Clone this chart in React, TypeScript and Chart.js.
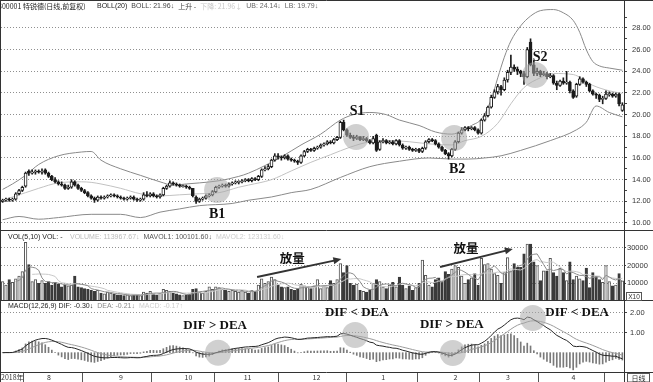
import React, { useEffect, useRef } from 'react';
import { Chart, registerables } from 'chart.js';

Chart.register(...registerables);

const SANS = '"Liberation Sans", Arial, sans-serif';
const CJK = '"Noto Sans CJK SC", "Liberation Sans", sans-serif';
const SERIF = '"Liberation Serif", "Times New Roman", serif';

// ---------------- data ----------------
const open = [
  12.0,12.1,12.2,12.1,12.2,12.7,13.0,13.4,14.8,14.6,
  14.7,14.8,14.7,14.9,14.6,14.3,14.0,13.8,13.6,13.5,
  13.2,13.3,13.8,13.5,13.2,13.0,12.8,12.5,12.3,12.1,
  12.4,12.3,12.4,12.5,12.6,12.5,12.4,12.3,12.2,12.3,
  12.4,12.2,12.1,12.2,12.6,12.5,12.7,12.5,12.4,12.6,
  13.2,13.4,13.7,13.6,13.5,13.35,13.4,13.3,13.2,12.4,
  12.0,12.2,12.3,12.5,12.6,12.9,13.3,13.4,13.5,13.4,
  13.6,13.7,13.75,13.8,13.9,14.0,13.9,14.1,14.0,14.3,
  14.9,15.0,15.2,15.8,16.2,16.1,16.0,16.2,15.9,15.8,
  15.7,15.6,16.2,16.6,16.8,16.7,16.9,17.0,17.2,17.3,
  17.5,17.4,17.7,17.9,19.3,18.6,18.1,17.9,17.8,17.9,
  17.7,17.8,17.6,17.4,18.1,16.8,17.5,17.6,17.4,17.5,
  17.3,17.6,17.2,16.9,17.0,16.8,16.7,16.8,16.6,16.9,
  17.5,17.7,17.6,17.3,17.0,16.7,16.4,16.2,16.8,17.5,
  18.3,18.6,18.8,18.7,18.8,18.6,18.3,19.5,19.9,20.7,
  21.6,22.1,22.6,22.3,23.2,23.9,24.4,24.2,24.0,23.8,
  23.5,26.7,24.6,23.8,24.0,23.7,23.8,23.5,23.6,22.9,
  22.7,23.1,22.9,23.0,22.2,21.7,22.8,23.3,23.0,22.8,
  22.2,21.9,21.8,21.4,21.5,21.85,21.9,21.7,21.9,20.4,
];
const high = [
  12.2,12.3,12.3,12.3,12.8,13.1,13.4,14.7,14.9,14.9,
  14.9,14.9,15.0,15.0,14.7,14.4,14.2,13.9,13.8,13.6,
  13.5,14.0,13.9,13.6,13.3,13.1,12.9,12.6,12.4,12.5,
  12.5,12.5,12.6,12.7,12.7,12.6,12.5,12.4,12.4,12.5,
  12.5,12.3,12.3,12.8,12.9,12.8,12.8,12.6,12.7,13.3,
  13.5,13.9,13.8,13.7,13.6,13.5,13.5,13.4,13.2,12.5,
  12.3,12.4,12.6,12.7,13.0,13.4,13.5,13.6,13.6,13.7,
  13.8,13.9,13.9,14.0,14.1,14.1,14.2,14.2,14.4,15.0,
  15.2,15.4,15.9,16.4,16.4,16.2,16.3,16.3,16.0,15.9,
  15.8,16.3,16.7,16.9,16.9,17.0,17.1,17.3,17.4,17.6,
  17.6,17.8,18.0,19.4,19.5,18.7,18.3,18.1,18.1,18.0,
  18.0,17.9,17.7,18.0,18.2,17.6,17.8,17.7,17.6,17.6,
  17.7,17.7,17.3,17.1,17.1,16.9,16.9,16.9,17.0,17.6,
  17.8,17.8,17.7,17.4,17.1,16.8,16.5,16.9,17.6,18.4,
  18.8,18.9,18.9,18.9,18.9,18.7,19.6,20.1,20.8,21.8,
  22.3,22.8,22.7,23.4,24.1,25.5,24.6,24.4,24.1,24.0,
  26.2,27.0,25.0,24.3,24.1,24.0,23.9,23.8,23.7,23.1,
  23.2,23.4,24.0,23.1,22.3,22.9,23.5,23.4,23.1,22.9,
  22.3,22.0,21.9,21.7,22.2,22.1,22.0,22.0,22.0,21.1,
];
const low = [
  11.9,12.0,12.0,12.0,12.1,12.6,12.9,13.3,14.4,14.5,
  14.5,14.6,14.5,14.5,14.2,13.9,13.7,13.5,13.4,13.1,
  13.1,13.2,13.4,13.1,12.9,12.7,12.4,12.2,11.9,12.0,
  12.2,12.2,12.3,12.4,12.4,12.3,12.2,12.1,12.1,12.2,
  12.1,12.0,12.0,12.1,12.4,12.4,12.4,12.3,12.3,12.5,
  13.1,13.3,13.5,13.4,13.3,13.3,13.2,13.1,12.4,11.8,
  11.9,12.1,12.2,12.4,12.5,12.8,13.2,13.3,13.3,13.3,
  13.5,13.6,13.6,13.7,13.8,13.8,13.8,13.9,13.9,14.2,
  14.8,14.9,15.1,15.7,15.9,15.8,15.9,15.8,15.7,15.6,
  15.4,15.5,16.1,16.5,16.6,16.6,16.8,16.9,17.1,17.2,
  17.3,17.3,17.6,17.8,18.5,18.0,17.8,17.6,17.7,17.6,
  17.6,17.5,17.3,17.3,16.6,16.7,17.4,17.3,17.3,17.2,
  17.2,17.1,16.8,16.8,16.7,16.6,16.6,16.5,16.5,16.8,
  17.4,17.5,17.2,16.9,16.6,16.3,15.9,16.1,16.7,17.4,
  18.2,18.5,18.5,18.6,18.5,18.2,18.2,19.4,19.8,20.6,
  21.5,21.9,21.8,22.2,23.0,23.7,24.0,23.7,23.5,22.8,
  23.4,24.5,23.6,23.6,23.5,23.6,23.3,23.4,22.8,22.3,
  22.6,22.8,22.8,22.0,21.5,21.6,22.7,22.9,22.6,22.1,
  21.8,21.5,21.2,21.0,21.4,21.7,21.6,21.6,20.8,20.3,
];
const close = [
  12.1,12.2,12.1,12.2,12.7,13.0,13.3,14.6,14.6,14.7,
  14.8,14.7,14.8,14.6,14.3,14.0,13.8,13.6,13.5,13.2,
  13.3,13.8,13.5,13.2,13.0,12.8,12.5,12.3,12.1,12.4,
  12.3,12.4,12.5,12.6,12.5,12.4,12.3,12.2,12.3,12.4,
  12.2,12.1,12.2,12.6,12.5,12.7,12.5,12.4,12.6,13.2,
  13.4,13.7,13.6,13.5,13.4,13.4,13.3,13.2,12.5,12.0,
  12.2,12.3,12.5,12.6,12.9,13.3,13.4,13.5,13.4,13.6,
  13.7,13.8,13.8,13.9,14.0,13.9,14.1,14.0,14.3,14.9,
  15.0,15.2,15.8,16.2,16.1,16.0,16.2,15.9,15.8,15.7,
  15.6,16.2,16.6,16.8,16.7,16.9,17.0,17.2,17.3,17.5,
  17.4,17.7,17.9,19.3,18.6,18.1,17.9,17.8,17.9,17.7,
  17.8,17.6,17.4,17.8,16.7,17.5,17.6,17.4,17.5,17.3,
  17.6,17.2,16.9,17.0,16.8,16.7,16.8,16.6,16.9,17.5,
  17.7,17.6,17.3,17.0,16.7,16.4,16.2,16.8,17.5,18.3,
  18.6,18.8,18.7,18.8,18.6,18.3,19.5,19.9,20.7,21.6,
  22.1,22.6,22.3,23.2,23.9,24.4,24.2,24.0,23.8,23.5,
  26.0,24.6,23.8,24.0,23.7,23.8,23.5,23.6,22.9,22.7,
  23.1,22.9,23.0,22.2,21.6,22.8,23.3,23.0,22.8,22.2,
  21.9,21.8,21.4,21.5,21.9,21.9,21.7,21.9,21.0,20.9,
];
const volume = [
  11000,9000,12000,10500,12500,14000,16500,33000,20500,11000,
  12000,10000,11500,10000,11000,9000,10500,9500,8000,9000,
  8500,9000,14000,8000,7500,7000,6500,6000,5500,6000,
  4500,4000,5000,4500,4000,3500,3500,3000,3500,3000,
  3500,3500,3000,5000,4500,5500,4000,3500,4500,6500,
  6000,5500,4500,4000,3500,3000,3500,4000,6500,7000,
  5000,4500,5500,8000,6500,8000,7500,6500,6000,5500,
  6000,5500,5000,6000,5000,4500,6000,5500,9000,12500,
  10000,11000,13500,12000,9000,8000,7500,8000,6500,6000,
  7000,9500,8500,8000,7000,8500,12000,7000,8500,7500,
  11500,10000,12000,21000,16000,20000,10000,9000,9500,6000,
  5500,5000,6000,10000,12000,11000,8000,7000,9000,10500,
  8000,13500,9000,7000,8500,6000,7500,10000,23000,14500,
  9000,8000,12000,13000,11000,16500,15000,18000,20000,19000,
  14000,10000,12000,13000,15500,9000,24000,20500,21000,18000,
  15500,14500,10000,16000,24500,17000,21000,19000,19000,26500,
  32000,32000,22000,20000,11500,17000,17000,24000,16000,14000,
  18500,16000,11500,22000,12000,14000,12500,11500,18500,7500,
  16000,14000,12000,10500,20000,11000,8500,9000,15500,11400,
];
// Bollinger band lines: [day index, price]
const bollUpper = [
  [0,13.1],[3,13.6],[7,14.4],[11,15.4],[17,16.2],[24,16.55],[27,16.6],[30,15.8],[36,15.0],[42,14.4],
  [48,13.8],[52,13.5],[56,13.6],[60,13.7],[66,13.9],[72,14.3],[75,14.6],[80,15.3],[85,16.1],[91,17.2],
  [97,18.2],[103,19.5],[107,20.0],[112,20.2],[117,20.0],[121,19.5],[127,19.0],[132,18.4],[137,18.2],[140,18.5],
  [143,19.0],[146,19.6],[149,21.4],[151,23.4],[153,25.3],[155,26.8],[158,28.2],[161,29.1],[164,29.6],[168,29.7],
  [171,29.4],[174,28.7],[176,27.6],[178,26.0],[180,24.9],[182,24.5],[185,24.3],[189,24.1],
];
const bollMid = [
  [0,12.1],[7,12.8],[11,13.2],[17,13.7],[24,13.8],[27,13.75],[30,13.6],[36,13.2],[42,12.7],[48,12.5],
  [54,12.6],[60,12.7],[66,12.8],[72,13.3],[75,13.5],[82,14.0],[88,14.8],[94,15.6],[100,16.3],[106,17.0],
  [112,17.5],[118,17.6],[124,17.5],[130,17.3],[137,17.2],[141,17.6],[146,18.0],[151,19.2],[155,21.0],[159,22.5],
  [164,23.4],[168,23.8],[174,23.7],[180,22.7],[185,22.2],[189,21.96],
];
const bollLower = [
  [0,10.3],[5,10.6],[11,10.35],[17,10.5],[27,10.8],[36,10.8],[42,10.5],[48,11.0],[54,11.3],[60,11.6],
  [70,11.8],[75,12.1],[82,12.4],[88,12.8],[94,13.1],[103,14.2],[112,15.2],[121,15.7],[130,16.0],[137,15.9],
  [142,15.9],[147,16.0],[152,16.2],[158,16.7],[167,17.6],[175,18.6],[178,19.3],[181,20.8],[185,20.2],[189,19.8],
];
const monthStarts = [0, 14, 36, 56, 74, 95, 116, 138, 154, 174];
const monthLabels = ['2018年', '8', '9', '10', '11', '12', '1', '2', '3', '4'];
const priceTicks = [10, 12, 14, 16, 18, 20, 22, 24, 26, 28];
const priceMinorTicks = [11, 13, 15, 17, 19, 21, 23, 25, 27, 29];
const volTicks = [10000, 20000, 30000];
const macdTicks = [1, 2];

const days = close.map((_, i) => i);

// annotations (day index, value)
const signalText = ['B1', 'S1', 'B2', 'S2'];
const signalCircleAt = [[65.4, 13.05], [107.8, 17.94], [137.7, 17.85], [162.4, 23.66]];
const signalTextAt = [[65.4, 10.83], [108.1, 20.34], [138.6, 14.98], [163.9, 25.32]];
const volNote = '放量';
const volNoteAt = [[88.3, 24200], [141.3, 29800]];
const volArrows = [[[77.6, 13500], [103.3, 23600]], [[133.4, 19100], [155.6, 29300]]];
const macdText = ['DIF > DEA', 'DIF < DEA', 'DIF > DEA', 'DIF < DEA'];
const macdTextAt = [[64.8, 1.36], [108, 1.985], [137, 1.385], [175.2, 1.985]];
const macdCircleAt = [[65.7, 0], [107.5, 0.885], [137.3, -0.015], [161.7, 1.735]];

const mainTitle = [
  [-2, '300001 特锐德(日线,前复权)', '#222', CJK, 7],
  [97, 'BOLL(20)', '#222', SANS, 7],
  [128, 'BOLL: 21.96↓', '#444', SANS, 7],
  [173, '上升 -', '#444', CJK, 7],
  [196, '下降: 21.96↓', '#c8c8c8', CJK, 7],
  [235, 'UB: 24.14↓', '#666', SANS, 7],
  [273, 'LB: 19.79↓', '#666', SANS, 7],
];
const volTitle = [
  [8, 'VOL(5,10) VOL: -', '#222', SANS, 7],
  [70, 'VOLUME: 113967.67↓', '#bbb', SANS, 7],
  [142, 'MAVOL1: 100101.60↓', '#555', SANS, 7],
  [210, 'MAVOL2: 123131.60↓', '#ccc', SANS, 7],
];
const macdTitle = [
  [8, 'MACD(12,26,9) DIF: -0.30↓', '#222', SANS, 7],
  [97, 'DEA: -0.21↓', '#888', SANS, 7],
  [135, 'MACD: -0.17↑', '#ccc', SANS, 7],
];

// ---------------- indicators ----------------
function ema(src, n) {
  const k = 2 / (n + 1);
  let prev = src[0];
  return src.map((v, i) => (prev = i === 0 ? v : prev + k * (v - prev)));
}
function sma(src, n) {
  return src.map((_, i) => (i < n - 1 ? null : src.slice(i - n + 1, i + 1).reduce((a, b) => a + b, 0) / n));
}
const ema12 = ema(close, 12);
const ema26 = ema(close, 26);
const dif = ema12.map((v, i) => v - ema26[i]);
const dea = ema(dif, 9);
const macdHist = dif.map((v, i) => 2 * (v - dea[i]));
const mavol5 = sma(volume, 5);
const mavol10 = sma(volume, 10);

const isUp = close.map((c, i) => c >= open[i]);
const DARK = '#1c1c1c';
const AXIS_W = 29;
const N = close.length;

// ---------------- helpers ----------------
function drawTitle(ctx, segs, y) {
  ctx.textBaseline = 'middle';
  ctx.textAlign = 'left';
  let end = -100;
  segs.forEach(([x, text, color, fam, size]) => {
    ctx.font = `${size}px ${fam}`;
    ctx.fillStyle = color;
    const sx = Math.max(x, end + 4);
    ctx.fillText(text, sx, y);
    end = sx + ctx.measureText(text).width;
  });
}
function frame(ctx, width, height, top) {
  ctx.strokeStyle = '#333';
  ctx.lineWidth = 1;
  ctx.beginPath();
  if (top) { ctx.moveTo(0, 0.5); ctx.lineTo(width, 0.5); }
  ctx.moveTo(0.5, 0); ctx.lineTo(0.5, height);
  ctx.stroke();
}
const xScale = () => ({ type: 'linear', min: -0.5, max: N - 0.5, display: false, offset: false });
function yAxis(min, max, ticks, labelOf, tickLength, padding) {
  return {
    position: 'right',
    min, max,
    afterFit: (s) => { s.width = AXIS_W; s.paddingTop = 0; s.paddingBottom = 0; },
    afterBuildTicks: (s) => { s.ticks = ticks.map((v) => ({ value: v })); },
    ticks: { callback: labelOf, font: { size: 7.5, family: SANS }, color: '#333', padding, autoSkip: false },
    grid: {
      color: (c) => (c.tick && labelOf(c.tick.value) !== '' ? '#8f8f8f' : 'rgba(0,0,0,0)'),
      tickColor: '#444', tickLength, lineWidth: 1,
    },
    border: { display: true, color: '#333', dash: [1, 2] },
  };
}
const baseOptions = {
  animation: false, responsive: false, maintainAspectRatio: false, events: [],
  plugins: { legend: { display: false }, tooltip: { enabled: false } },
};

// ---------------- chart configs ----------------
function mainConfig() {
  const decor = {
    id: 'mainDecor',
    afterDatasetsDraw(chart) {
      const { ctx } = chart; const x = chart.scales.x; const y = chart.scales.y;
      ctx.save();
      ctx.fillStyle = 'rgba(170,170,170,0.55)';
      signalCircleAt.forEach(([i, v]) => {
        ctx.beginPath(); ctx.arc(x.getPixelForValue(i), y.getPixelForValue(v), 13, 0, Math.PI * 2); ctx.fill();
      });
      ctx.fillStyle = '#111'; ctx.font = `bold 14px ${SERIF}`;
      ctx.textAlign = 'center'; ctx.textBaseline = 'middle';
      signalText.forEach((t, k) => ctx.fillText(t, x.getPixelForValue(signalTextAt[k][0]), y.getPixelForValue(signalTextAt[k][1])));
      ctx.restore();
    },
    afterDraw(chart) {
      const { ctx, width, height } = chart;
      ctx.save();
      frame(ctx, width, height, true);
      ctx.beginPath(); ctx.moveTo(0, height - 0.5); ctx.lineTo(width, height - 0.5); ctx.stroke();
      drawTitle(ctx, mainTitle, 6);
      ctx.restore();
    },
  };
  return {
    type: 'bar',
    data: {
      labels: days,
      datasets: [
        {
          type: 'bar', data: open.map((o, i) => [o, close[i]]), grouped: false, order: 0,
          backgroundColor: isUp.map((u) => (u ? '#ffffff' : DARK)), borderColor: DARK,
          borderWidth: 1, borderSkipped: false, barThickness: 3, minBarLength: 1,
        },
        {
          type: 'bar', data: low.map((l, i) => [l, high[i]]), grouped: false, order: 1,
          backgroundColor: DARK, borderWidth: 0, barThickness: 1,
        },
        { type: 'line', data: bollUpper.map(([x, y]) => ({ x, y })), borderColor: '#8a8a8a', borderWidth: 1, pointRadius: 0, cubicInterpolationMode: 'monotone', order: 2 },
        { type: 'line', data: bollMid.map(([x, y]) => ({ x, y })), borderColor: '#c2c2c2', borderWidth: 1, pointRadius: 0, cubicInterpolationMode: 'monotone', order: 2 },
        { type: 'line', data: bollLower.map(([x, y]) => ({ x, y })), borderColor: '#8a8a8a', borderWidth: 1, pointRadius: 0, cubicInterpolationMode: 'monotone', order: 2 },
      ],
    },
    options: {
      ...baseOptions,
      layout: { padding: { top: 1, left: 1, right: 0, bottom: 0 } },
      scales: {
        x: xScale(),
        y: yAxis(9.26, 30.49, [...priceTicks, ...priceMinorTicks].sort((a, b) => a - b),
          (v) => (priceTicks.includes(v) ? Number(v).toFixed(2) : ''), 3, 5),
      },
    },
    plugins: [decor],
  };
}

function volConfig() {
  const decor = {
    id: 'volDecor',
    afterDatasetsDraw(chart) {
      const { ctx } = chart; const x = chart.scales.x; const y = chart.scales.y;
      ctx.save();
      ctx.strokeStyle = '#333'; ctx.fillStyle = '#333'; ctx.lineWidth = 2;
      volArrows.forEach(([[i0, v0], [i1, v1]]) => {
        const x0 = x.getPixelForValue(i0), y0 = y.getPixelForValue(v0);
        const x1 = x.getPixelForValue(i1), y1 = y.getPixelForValue(v1);
        const a = Math.atan2(y1 - y0, x1 - x0);
        ctx.beginPath(); ctx.moveTo(x0, y0); ctx.lineTo(x1 - 5 * Math.cos(a), y1 - 5 * Math.sin(a)); ctx.stroke();
        ctx.beginPath();
        ctx.moveTo(x1, y1);
        ctx.lineTo(x1 - 8 * Math.cos(a) + 3.5 * Math.sin(a), y1 - 8 * Math.sin(a) - 3.5 * Math.cos(a));
        ctx.lineTo(x1 - 8 * Math.cos(a) - 3.5 * Math.sin(a), y1 - 8 * Math.sin(a) + 3.5 * Math.cos(a));
        ctx.closePath(); ctx.fill();
      });
      ctx.fillStyle = '#111'; ctx.font = `bold 12.5px ${CJK}`;
      ctx.textAlign = 'center'; ctx.textBaseline = 'middle';
      volNoteAt.forEach(([i, v]) => ctx.fillText(volNote, x.getPixelForValue(i), y.getPixelForValue(v)));
      ctx.restore();
    },
    afterDraw(chart) {
      const { ctx, width, height } = chart;
      ctx.save();
      frame(ctx, width, height, false);
      ctx.beginPath(); ctx.moveTo(0, height - 0.5); ctx.lineTo(width, height - 0.5); ctx.stroke();
      ctx.lineWidth = 1; ctx.strokeStyle = '#555';
      ctx.strokeRect(626.5, 61.5, 15, 8);
      ctx.fillStyle = '#333'; ctx.font = `6.5px ${SANS}`; ctx.textAlign = 'center'; ctx.textBaseline = 'middle';
      ctx.fillText('X10', 634, 66);
      drawTitle(ctx, volTitle, 6);
      ctx.restore();
    },
  };
  return {
    type: 'bar',
    data: {
      labels: days,
      datasets: [
        {
          type: 'bar', data: volume, grouped: false, order: 1,
          backgroundColor: isUp.map((u) => (u ? '#ffffff' : '#3a3a3a')),
          borderColor: isUp.map((u) => (u ? '#555555' : '#3a3a3a')),
          borderWidth: 1, barThickness: 2.6,
        },
        { type: 'line', data: mavol5, borderColor: '#8c8c8c', borderWidth: 1, pointRadius: 0, order: 0 },
        { type: 'line', data: mavol10, borderColor: '#c8c8c8', borderWidth: 1, pointRadius: 0, order: 0 },
      ],
    },
    options: {
      ...baseOptions,
      layout: { padding: { top: 0, left: 1, right: 0, bottom: 0 } },
      scales: {
        x: xScale(),
        y: yAxis(0, 39400, volTicks, (v) => (volTicks.includes(v) ? String(v) : ''), 2, 1),
      },
    },
    plugins: [decor],
  };
}

function macdConfig() {
  const decor = {
    id: 'macdDecor',
    afterDatasetsDraw(chart) {
      const { ctx } = chart; const x = chart.scales.x; const y = chart.scales.y;
      ctx.save();
      ctx.fillStyle = 'rgba(170,170,170,0.55)';
      macdCircleAt.forEach(([i, v]) => {
        ctx.beginPath(); ctx.arc(x.getPixelForValue(i), y.getPixelForValue(v), 13, 0, Math.PI * 2); ctx.fill();
      });
      ctx.fillStyle = '#111'; ctx.font = `bold 13px ${SERIF}`;
      ctx.textAlign = 'center'; ctx.textBaseline = 'middle';
      macdText.forEach((t, k) => ctx.fillText(t, x.getPixelForValue(macdTextAt[k][0]), y.getPixelForValue(macdTextAt[k][1])));
      ctx.restore();
    },
    afterDraw(chart) {
      const { ctx, width, height, chartArea } = chart;
      ctx.save();
      frame(ctx, width, height, false);
      ctx.beginPath();
      ctx.moveTo(0, chartArea.bottom + 0.5); ctx.lineTo(width, chartArea.bottom + 0.5);
      ctx.moveTo(chartArea.right + 0.5, chartArea.bottom); ctx.lineTo(chartArea.right + 0.5, height);
      ctx.stroke();
      ctx.strokeStyle = '#555';
      ctx.strokeRect(627.5, chartArea.bottom + 1.5, 22, 8.5);
      ctx.fillStyle = '#333'; ctx.font = `7px ${CJK}`; ctx.textAlign = 'center'; ctx.textBaseline = 'middle';
      ctx.fillText('日线', 638.5, chartArea.bottom + 6);
      drawTitle(ctx, macdTitle, 5);
      ctx.restore();
    },
  };
  return {
    type: 'bar',
    data: {
      labels: days,
      datasets: [
        { type: 'bar', data: macdHist, grouped: false, backgroundColor: '#7a7a7a', borderWidth: 0, barThickness: 1, order: 1 },
        { type: 'line', data: dif, borderColor: '#262626', borderWidth: 1, pointRadius: 0, order: 0 },
        { type: 'line', data: dea, borderColor: '#9c9c9c', borderWidth: 1, pointRadius: 0, order: 0 },
      ],
    },
    options: {
      ...baseOptions,
      layout: { padding: { top: 0, left: 1, right: 0, bottom: 0 } },
      scales: {
        x: {
          type: 'linear', min: -0.5, max: N - 0.5, position: 'bottom', offset: false,
          afterFit: (s) => { s.height = 10; s.paddingLeft = 0; s.paddingRight = 0; },
          afterBuildTicks: (s) => { s.ticks = monthStarts.map((v) => ({ value: v - 0.5 })); },
          ticks: {
            callback: (_v, idx) => monthLabels[idx], align: 'start', padding: -9,
            font: { size: 7, family: CJK }, color: '#333', autoSkip: false, maxRotation: 0, minRotation: 0,
          },
          grid: { drawOnChartArea: false, drawTicks: true, tickLength: 10, tickColor: '#555' },
          border: { display: false },
        },
        y: yAxis(-0.965, 2.585, macdTicks, (v) => (macdTicks.includes(v) ? Number(v).toFixed(2) : ''), 3, 3),
      },
    },
    plugins: [decor],
  };
}

export default function App() {
  const mainRef = useRef(null);
  const volRef = useRef(null);
  const macdRef = useRef(null);
  useEffect(() => {
    const charts = [
      new Chart(mainRef.current, mainConfig()),
      new Chart(volRef.current, volConfig()),
      new Chart(macdRef.current, macdConfig()),
    ];
    return () => charts.forEach((c) => c.destroy());
  }, []);
  const cs = (top, h) => ({ position: 'absolute', left: 0, top, width: 653, height: h, display: 'block' });
  return (
    <div style={{ position: 'fixed', left: 0, top: 0, width: 653, height: 382, background: '#fff', overflow: 'hidden' }}>
      <canvas ref={mainRef} width={653} height={231} style={cs(0, 231)} />
      <canvas ref={volRef} width={653} height={70} style={cs(231, 70)} />
      <canvas ref={macdRef} width={653} height={81} style={cs(301, 81)} />
    </div>
  );
}
